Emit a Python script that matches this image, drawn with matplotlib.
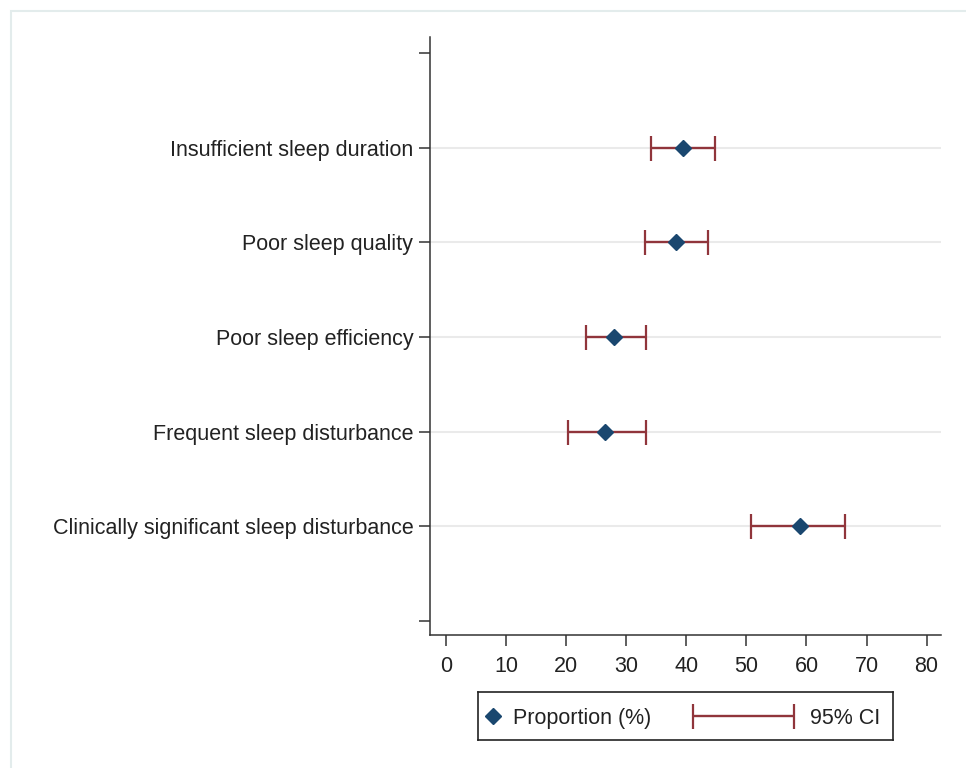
import matplotlib
matplotlib.use("Agg")
import matplotlib.pyplot as plt
from matplotlib.patches import Rectangle

plt.rcParams['font.family'] = ['Liberation Sans', 'DejaVu Sans']

labels = ["Insufficient sleep duration", "Poor sleep quality", "Poor sleep efficiency",
          "Frequent sleep disturbance", "Clinically significant sleep disturbance"]
proportion = [39.4, 38.2, 28.0, 26.4, 58.9]
ci_low = [34.1, 33.1, 23.3, 20.3, 50.8]
ci_high = [44.8, 43.6, 33.3, 33.3, 66.4]
xticks = [0, 10, 20, 30, 40, 50, 60, 70, 80]

navy = "#1a476f"
maroon = "#90353b"
W, H = 966, 768
fs = 15.5

fig = plt.figure(figsize=(W / 100, H / 100), dpi=100)
fig.patches.append(Rectangle((10.5 / W, -0.2), 1.2, 1.2 - 10.5 / H, transform=fig.transFigure,
                             fill=False, edgecolor="#e3ecec", linewidth=1.5))

ax = fig.add_axes([430 / W, 1 - 635 / H, (941 - 430) / W, (635 - 37) / H])
ypos = list(range(len(labels), 0, -1))

for y in ypos:
    ax.axhline(y, color="#eaeaea", linewidth=1.5, zorder=0)

err = [[p - lo for p, lo in zip(proportion, ci_low)], [hi - p for p, hi in zip(proportion, ci_high)]]
ax.errorbar(proportion, ypos, xerr=err, fmt="none", ecolor=maroon, elinewidth=1.7,
            capsize=9, capthick=1.6, zorder=2)
ax.plot(proportion, ypos, linestyle="none", marker="D", markersize=8, color=navy, zorder=3)

ax.set_xlim(-2.7, 82.4)
ax.set_ylim(-0.15, 6.17)
ax.set_xticks(xticks)
ax.set_xticklabels([str(t) for t in xticks])
ax.set_yticks([0] + ypos[::-1] + [6])
ax.set_yticklabels([""] + labels[::-1] + [""])
ax.tick_params(axis="both", length=8, width=1.1, color="#333333", labelsize=fs, labelcolor="#222222")
ax.tick_params(axis="y", pad=4)
ax.tick_params(axis="x", pad=7)
for s in ["top", "right"]:
    ax.spines[s].set_visible(False)
for s in ["left", "bottom"]:
    ax.spines[s].set_linewidth(1.1)
    ax.spines[s].set_color("#333333")

# legend box
lax = fig.add_axes([478 / W, 1 - 740 / H, (893 - 478) / W, (740 - 692) / H])
lax.set_xlim(0, 415)
lax.set_ylim(0, 48)
lax.set_xticks([])
lax.set_yticks([])
for s in lax.spines.values():
    s.set_linewidth(1.2)
    s.set_color("#222222")
lax.plot([15], [24], linestyle="none", marker="D", markersize=8, color=navy)
lax.text(35, 24, "Proportion (%)", fontsize=fs, va="center_baseline", ha="left", color="#222222")
lax.errorbar([265.5], [24], xerr=[50.5], fmt="none", ecolor=maroon, elinewidth=1.7,
             capsize=9, capthick=1.6)
lax.text(332, 24, "95% CI", fontsize=fs, va="center_baseline", ha="left", color="#222222")

fig.savefig("out.png", dpi=100, facecolor="white")
